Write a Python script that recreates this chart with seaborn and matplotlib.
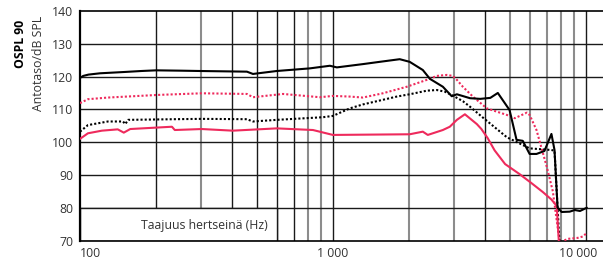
import numpy as np
import pandas as pd
import matplotlib
matplotlib.use('Agg')
import matplotlib.pyplot as plt
import matplotlib.transforms as mtransforms
from matplotlib.patches import Rectangle
import seaborn as sns

# Frequency responses (Hz, dB SPL)
black_solid_f = [100, 103, 108, 120, 150, 175, 200, 250, 298, 457, 483, 600, 811, 973,
                 1037, 1314, 1534, 1838, 2012, 2268, 2420, 2722, 2952, 3093, 3487, 3826,
                 4193, 4490, 4996, 5325, 5635, 5998, 6385, 6864, 7316, 7524, 7737, 8030,
                 8640, 9050, 9485, 10100]
black_solid_db = [119.6, 120.2, 120.6, 121.0, 121.4, 121.7, 121.9, 121.8, 121.7, 121.5, 120.8,
                  121.7, 122.5, 123.3, 122.8, 123.8, 124.5, 125.3, 124.5, 122.0, 119.3, 116.9,
                  114.0, 114.6, 113.4, 113.2, 113.5, 115.0, 109.8, 100.7, 100.4, 96.4, 96.4,
                  97.3, 102.5, 97.6, 80.0, 78.7, 78.8, 79.3, 79.0, 80.0]

black_dot_f = [100, 107.5, 129, 148, 151, 155, 237, 303, 457, 483, 600, 913, 1000, 1167,
               1314, 1790, 2012, 2353, 2576, 2770, 2980, 3265, 3487, 3918, 4450, 4874,
               5998, 7316, 7524, 7737, 7890]
black_dot_db = [103.2, 105.2, 106.3, 106.3, 105.5, 106.8, 107.0, 107.1, 107.0, 106.3, 106.8,
                107.6, 108.0, 110.3, 111.5, 113.9, 114.6, 115.7, 115.9, 115.4, 114.2, 112.5,
                110.8, 107.5, 104.0, 101.5, 98.1, 97.6, 97.4, 80.0, 68.0]

pink_solid_f = [100, 107.5, 122, 141, 149, 158, 231, 237, 303, 402, 600, 834, 1000, 2012,
                2268, 2373, 2722, 2900, 3093, 3327, 3710, 3866, 4096, 4360, 4800, 5485,
                6100, 6760, 7316, 7680, 7850]
pink_solid_db = [101.0, 102.7, 103.5, 103.9, 102.9, 104.0, 104.7, 103.7, 104.0, 103.5, 104.2,
                 103.7, 102.2, 102.4, 103.2, 102.2, 103.7, 104.7, 106.8, 108.5, 105.5, 104.0,
                 101.2, 97.5, 93.3, 90.2, 87.5, 84.8, 82.5, 80.5, 68.0]

pink_dot_f = [100, 107.5, 129, 203, 303, 457, 483, 635, 888, 1000, 1167, 1314, 1576, 1961,
              2353, 2576, 2820, 2980, 3093, 3265, 3577, 4063, 4874, 5240, 5850, 5998, 6385,
              7010, 7410, 7737, 7950, 8100, 8490, 9290, 9720, 10100]
pink_dot_db = [111.9, 113.1, 113.6, 114.4, 114.9, 114.7, 113.7, 114.7, 113.7, 114.1, 113.9,
               113.6, 114.9, 116.9, 119.0, 120.2, 120.5, 120.2, 119.0, 116.9, 113.9, 110.3,
               108.3, 107.3, 109.0, 108.3, 103.7, 92.5, 85.0, 74.2, 68.0, 69.8, 70.5, 70.8,
               71.2, 72.3]

y_ticks = [70, 80, 90, 100, 110, 120, 130, 140]
x_tick_pos = [100, 1000, 9300]
x_tick_labels = ['100', '1 000', '10 000']

PINK = '#EE2A5C'

sns.set_style('white')
plt.rcParams['font.family'] = ['Open Sans', 'DejaVu Sans']

fig = plt.figure(figsize=(6.03, 2.6), dpi=100)
ax = fig.add_axes([80 / 603, 19.5 / 260, 523 / 603, 229.5 / 260])
ax.set_xscale('log')
ax.set_xlim(100, 11700)
ax.set_ylim(70, 140)

# grid: minor log lines, some dark and some grey like the original print
dark_lines = [200, 400, 500, 600, 700, 1000, 4000, 10000]
for dec in [100, 1000]:
    for m in range(2, 11):
        f = dec * m
        if f in dark_lines:
            ax.axvline(f, color='#1a1a1a', lw=1.0, zorder=1)
        else:
            ax.axvline(f, color='#8c8c8c', lw=1.5, zorder=1)
for yv in y_ticks[1:-1]:
    ax.axhline(yv, color='#1a1a1a', lw=1.0, zorder=1)

# axis-label box in the lower left corner
ax.add_patch(Rectangle((100, 70), 500, 10, facecolor='white', edgecolor='#1a1a1a',
                       lw=1.0, zorder=2))
ax.text(555, 74.6, 'Taajuus hertseinä (Hz)', ha='right', va='center',
        fontsize=8.8, color='#333333', zorder=3)

series = [
    (pink_dot_f, pink_dot_db, PINK, (0, (1, 1))),
    (black_dot_f, black_dot_db, 'black', (0, (1, 1))),
    (pink_solid_f, pink_solid_db, PINK, '-'),
    (black_solid_f, black_solid_db, 'black', '-'),
]
for f, db, col, ls in series:
    df = pd.DataFrame({'f': f, 'db': db})
    sns.lineplot(data=df, x='f', y='db', ax=ax, color=col, lw=1.5, linestyle=ls,
                 zorder=4, estimator=None, sort=False)

ax.set_xlabel('')
ax.set_ylabel('')
ax.set_yticks(y_ticks)
ax.set_yticklabels([str(v) for v in y_ticks])
ax.set_xticks([])
ax.minorticks_off()
ax.tick_params(axis='y', length=0, pad=5, labelsize=8.8, labelcolor='#333333')

xtrans = mtransforms.blended_transform_factory(ax.transData, ax.transAxes)
for pos, lab in zip(x_tick_pos, x_tick_labels):
    ax.text(pos, -0.03, lab, transform=xtrans, ha='left' if pos == 100 else 'center',
            va='top', fontsize=8.8, color='#333333')

for side in ['top', 'bottom']:
    ax.spines[side].set_color('black')
    ax.spines[side].set_linewidth(1.2)
ax.spines['left'].set_color('black')
ax.spines['left'].set_linewidth(1.6)
ax.spines['right'].set_visible(False)

fig.text(20 / 603, 1 - 20 / 260, 'OSPL 90', rotation=90, ha='center', va='top',
         fontsize=8.8, fontweight='bold', color='black')
fig.text(38 / 603, 1 - 16 / 260, 'Antotaso/dB SPL', rotation=90, ha='center', va='top',
         fontsize=8.8, color='#333333')

fig.savefig('out.png', dpi=100)
